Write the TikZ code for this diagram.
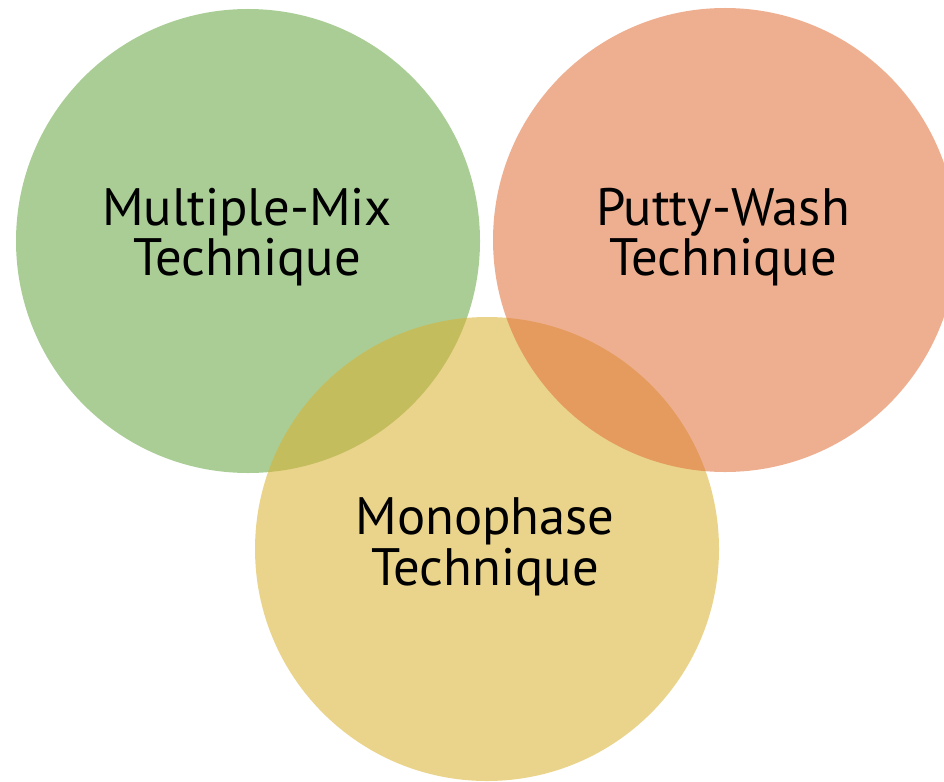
\documentclass[tikz,border=0pt]{standalone}
\usepackage{fontspec}
\setmainfont{PT Sans}
\usepackage{tikz}

\definecolor{mixgreen}{RGB}{100,164,64}
\definecolor{washorange}{RGB}{224,110,55}
\definecolor{monoyellow}{RGB}{217,177,46}

\tikzset{
  techcircle/.style={circle, inner sep=0pt, minimum size=348pt, fill opacity=0.55},
  techlabel/.style={align=center, font=\fontsize{39.5}{38}\selectfont}
}

\begin{document}
\begin{tikzpicture}[x=0.75pt,y=0.75pt,yscale=-1,xscale=1]
\useasboundingbox (0,0) rectangle (944,781);

% Circle Node
\node [techcircle, fill=mixgreen] (multimix) at (248,241) {};
% Circle Node
\node [techcircle, fill=monoyellow] (monophase) at (487,549) {};
% Circle Node
\node [techcircle, fill=washorange] (puttywash) at (725,240) {};

% Text Node
\node [techlabel] (multimixtext) at (247,237) {Multiple-Mix\\Technique};
% Text Node
\node [techlabel] (puttywashtext) at (723,237) {Putty-Wash\\Technique};
% Text Node
\node [techlabel] (monophasetext) at (485,547) {Monophase\\Technique};

\end{tikzpicture}
\end{document}
